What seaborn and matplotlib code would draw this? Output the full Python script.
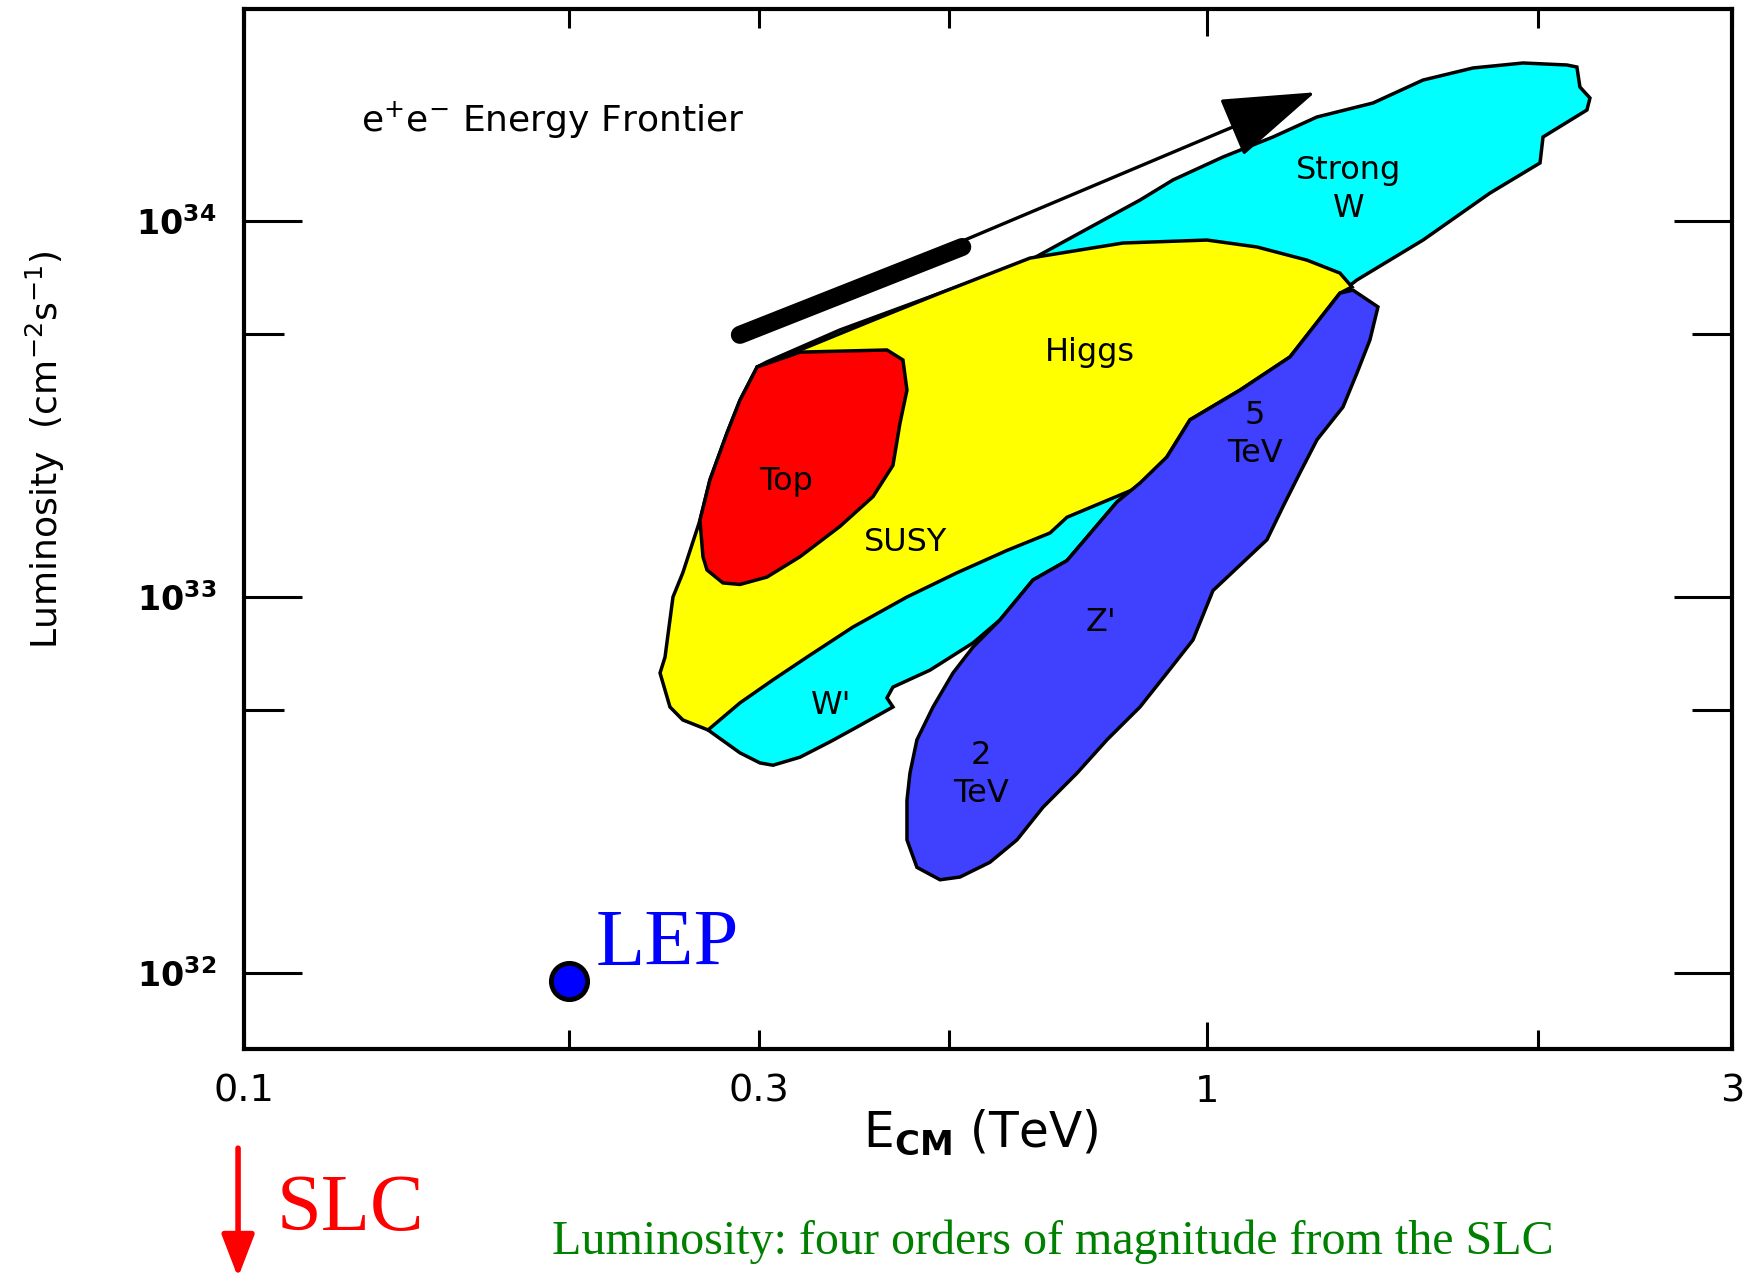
import numpy as np
import seaborn as sns
import matplotlib
matplotlib.use("Agg")
import matplotlib.pyplot as plt
from matplotlib.ticker import FixedLocator, FixedFormatter, NullFormatter

# e+e- energy frontier: physics reach regions in (E_cm, luminosity)

# x axis of the original is log-like but each stretch between labels has its own length
x_breaks = [0.1, 0.3, 1, 3]
x_span = [0, 515, 963, 1488]

# Strong W / W' (cyan) envelope
cyan_e = [0.2691, 0.2881, 0.3008, 0.3115, 0.3350, 0.3631, 0.3904, 0.4300, 0.4231, 0.4300,
          0.4750, 0.5332, 0.5733, 0.6265, 0.6865, 0.7852, 0.8353, 0.8981, 0.9554, 1.0715,
          1.1897, 1.3208, 1.3686, 1.5717, 1.8082, 2.0076, 2.0203, 2.2148, 2.2288, 2.1824,
          2.1687, 2.1238, 1.9375, 1.7450, 1.5717, 1.4153, 1.2589, 1.1481, 1.0340, 0.9127,
          0.8353, 0.6215, 0.4880, 0.3728, 0.3065, 0.2988]
cyan_lum = [4.43e32, 3.85e32, 3.62e32, 3.57e32, 3.75e32, 4.12e32, 4.51e32, 5.10e32, 5.39e32, 5.76e32,
            6.39e32, 7.55e32, 8.69e32, 1.11e33, 1.25e33, 1.79e33, 2.01e33, 2.36e33, 2.96e33, 3.55e33,
            4.35e33, 6.43e33, 6.97e33, 8.90e33, 1.187e34, 1.427e34, 1.673e34, 1.974e34, 2.124e34, 2.272e34,
            2.568e34, 2.600e34, 2.632e34, 2.553e34, 2.371e34, 2.060e34, 1.891e34, 1.673e34, 1.480e34, 1.286e34,
            1.137e34, 7.87e33, 6.43e33, 5.13e33, 4.22e33, 4.09e33]

# Higgs / SUSY (yellow)
yellow_e = [0.2988, 0.3413, 0.4076, 0.4880, 0.6215, 0.7980, 1.0, 1.1102, 1.2328, 1.3208,
            1.3544, 1.3208, 1.1897, 1.0715, 0.9554, 0.8981, 0.8812, 0.8195, 0.6865, 0.6558,
            0.5842, 0.5108, 0.4465, 0.3862, 0.3413, 0.3115, 0.2881, 0.2691, 0.2550, 0.2481,
            0.2429, 0.2455, 0.2497, 0.2550, 0.2645, 0.2702, 0.2802, 0.2881]
yellow_lum = [4.09e33, 4.62e33, 5.45e33, 6.43e33, 7.97e33, 8.74e33, 8.90e33, 8.53e33, 7.87e33, 7.27e33,
              6.68e33, 6.43e33, 4.35e33, 3.55e33, 2.96e33, 2.36e33, 2.22e33, 1.93e33, 1.63e33, 1.48e33,
              1.33e33, 1.16e33, 1.00e33, 8.32e32, 6.92e32, 6.02e32, 5.23e32, 4.43e32, 4.71e32, 5.10e32,
              6.28e32, 6.92e32, 1.00e33, 1.16e33, 1.60e33, 2.05e33, 2.73e33, 3.34e33]

# Top (red)
red_e = [0.2988, 0.3350, 0.4231, 0.4417, 0.4465, 0.4382, 0.4300, 0.4076, 0.3728, 0.3350,
         0.3065, 0.2881, 0.2778, 0.2685, 0.2662, 0.2645, 0.2702, 0.2802, 0.2881]
red_lum = [4.09e33, 4.48e33, 4.54e33, 4.27e33, 3.55e33, 2.90e33, 2.24e33, 1.85e33, 1.54e33, 1.28e33,
           1.13e33, 1.08e33, 1.09e33, 1.18e33, 1.28e33, 1.60e33, 2.05e33, 2.73e33, 3.34e33]

# Z' 2-5 TeV (blue)
blue_e = [1.3572, 1.4302, 1.4064, 1.3686, 1.3291, 1.2589, 1.2148, 1.1724, 1.1337, 1.0126,
          0.9631, 0.8981, 0.8353, 0.7643, 0.7051, 0.6436, 0.6001, 0.5580, 0.5149, 0.4880,
          0.4586, 0.4465, 0.4465, 0.4501, 0.4586, 0.4789, 0.5053, 0.5332, 0.5733, 0.6265,
          0.6865, 0.7852, 0.8353, 0.8981, 0.9554, 1.0715, 1.1897, 1.3208]
blue_lum = [6.55e33, 5.91e33, 4.83e33, 3.94e33, 3.20e33, 2.62e33, 2.14e33, 1.74e33, 1.42e33, 1.04e33,
            7.69e32, 6.28e32, 5.10e32, 4.17e32, 3.40e32, 2.76e32, 2.26e32, 1.97e32, 1.80e32, 1.77e32,
            1.91e32, 2.26e32, 2.88e32, 3.40e32, 4.17e32, 5.10e32, 6.28e32, 7.36e32, 8.69e32, 1.11e33,
            1.25e33, 1.79e33, 2.01e33, 2.36e33, 2.96e33, 3.55e33, 4.35e33, 6.43e33]

region_labels = ["Strong\nW", "Higgs", "Top", "SUSY", "5\nTeV", "Z'", "W'", "2\nTeV"]
label_e = [1.346, 0.730, 0.3225, 0.4453, 1.106, 0.752, 0.364, 0.5447]
label_lum = [1.21e34, 4.48e33, 2.03e33, 1.40e33, 2.71e33, 8.53e32, 5.16e32, 3.38e32]

# frontier arrow: tail, end of thick part, tip
arrow_e = [0.288, 0.518, 1.254]
arrow_lum = [4.98e33, 8.53e33, 2.20e34]

lep_e = [0.2]
lep_lum = [9.5e31]

x_label_ticks = [0.1, 0.3, 1, 3]
x_label_text = ["0.1", "0.3", "1", "3"]
x_minor_ticks = [0.2, 0.5, 2]
y_major_ticks = [1e32, 1e33, 1e34]
y_major_text = [r"$\mathbf{10^{32}}$", r"$\mathbf{10^{33}}$", r"$\mathbf{10^{34}}$"]
y_minor_ticks = [5e32, 5e33]

lb = np.log10(x_breaks)
sp = np.array(x_span, dtype=float)


def fwd(x):
    lx = np.log10(np.maximum(np.asarray(x, dtype=float), 1e-12))
    u = np.interp(lx, lb, sp)
    u = np.where(lx < lb[0], sp[0] + (lx - lb[0]) * (sp[1] - sp[0]) / (lb[1] - lb[0]), u)
    u = np.where(lx > lb[-1], sp[-1] + (lx - lb[-1]) * (sp[-1] - sp[-2]) / (lb[-1] - lb[-2]), u)
    return u


def inv(u):
    u = np.asarray(u, dtype=float)
    lx = np.interp(u, sp, lb)
    lx = np.where(u < sp[0], lb[0] + (u - sp[0]) * (lb[1] - lb[0]) / (sp[1] - sp[0]), lx)
    lx = np.where(u > sp[-1], lb[-1] + (u - sp[-1]) * (lb[-1] - lb[-2]) / (sp[-1] - sp[-2]), lx)
    return 10 ** lx


sns.set_style("white")
plt.rcParams["font.family"] = ["DejaVu Sans"]
plt.rcParams["mathtext.fontset"] = "dejavusans"
plt.rcParams["text.color"] = "black"
plt.rcParams["axes.labelcolor"] = "black"
plt.rcParams["xtick.color"] = "black"
plt.rcParams["ytick.color"] = "black"

fig = plt.figure(figsize=(17.53, 12.80), dpi=100)
ax = fig.add_axes([0.1392, 0.1805, 0.8488, 0.8125])
ax.set_xscale("function", functions=(fwd, inv))
ax.set_yscale("log")

#%%
# regions
ax.fill(cyan_e, cyan_lum, facecolor="#00ffff", edgecolor="black", lw=2.5, zorder=1)
ax.fill(yellow_e, yellow_lum, facecolor="#ffff00", edgecolor="black", lw=2.5, zorder=2)
ax.fill(red_e, red_lum, facecolor="#ff0000", edgecolor="black", lw=2.5, zorder=3)
ax.fill(blue_e, blue_lum, facecolor="#4040ff", edgecolor="black", lw=2.5, zorder=4)

for lab, e, l in zip(region_labels, label_e, label_lum):
    ax.text(e, l, lab, fontsize=23, ha="center", va="center", linespacing=1.3, zorder=6)

# arrow towards higher energy
ax.plot(arrow_e[:2], arrow_lum[:2], color="black", lw=13, solid_capstyle="round", zorder=5)
ax.annotate("", xy=(arrow_e[2], arrow_lum[2]), xytext=(arrow_e[0], arrow_lum[0]),
            arrowprops=dict(arrowstyle="-|>,head_length=3,head_width=1", mutation_scale=20,
                            lw=2.4, color="black", shrinkA=0, shrinkB=0), zorder=5)

# LEP
sns.scatterplot(x=lep_e, y=lep_lum, s=680, color="#0000ff", edgecolor="black",
                linewidth=3.5, ax=ax, zorder=7, legend=False)
ax.annotate("LEP", xy=(lep_e[0], lep_lum[0]), xytext=(19, 12), textcoords="offset points",
            fontsize=58, family="Liberation Serif", color="#0000ff", ha="left", va="baseline")

ax.text(0.0786, 0.893, r"e$^{+}$e$^{-}$ Energy Frontier", transform=ax.transAxes,
        fontsize=26, ha="left", va="center")

#%%
# axes
ax.set_xlim(0.1, 3)
ax.set_ylim(10 ** 31.798, 10 ** 34.564)

ax.xaxis.set_major_locator(FixedLocator(x_label_ticks))
ax.xaxis.set_major_formatter(FixedFormatter(x_label_text))
ax.xaxis.set_minor_locator(FixedLocator(x_minor_ticks))
ax.xaxis.set_minor_formatter(NullFormatter())
ax.yaxis.set_major_locator(FixedLocator(y_major_ticks))
ax.yaxis.set_major_formatter(FixedFormatter(y_major_text))
ax.yaxis.set_minor_locator(FixedLocator(y_minor_ticks))
ax.yaxis.set_minor_formatter(NullFormatter())

ax.tick_params(axis="both", which="both", direction="in", top=True, right=True,
               bottom=True, left=True, width=2.2, color="black")
ax.tick_params(axis="x", which="both", length=14)
ax.tick_params(axis="x", which="major", pad=18, labelsize=27.5)
ax.tick_params(axis="y", which="major", length=42, pad=20, labelsize=24)
ax.tick_params(axis="y", which="minor", length=29)

for sp_name in ["left", "right", "top", "bottom"]:
    ax.spines[sp_name].set_linewidth(3)
    ax.spines[sp_name].set_color("black")

ax.set_xlabel(r"E$_{\mathbf{CM}}$ (TeV)", fontsize=35)
ax.xaxis.set_label_coords(0.495, -0.056)
ax.set_ylabel(r"Luminosity  (cm$^{-2}$s$^{-1}$)", fontsize=26)
ax.yaxis.set_label_coords(-0.119, 0.576)

# 1 TeV tick is drawn a bit longer
one_tick = ax.xaxis.get_major_ticks()[2]
one_tick.tick1line.set_markersize(19.5)
one_tick.tick2line.set_markersize(19.5)

#%%
# notes below the plot
ax.annotate("", xy=(0.1358, 0.002), xytext=(0.1358, 0.103), xycoords="figure fraction",
            textcoords="figure fraction", annotation_clip=False,
            arrowprops=dict(arrowstyle="-|>,head_length=1.3,head_width=0.5", mutation_scale=20,
                            lw=4, color="#ff0000", shrinkA=0, shrinkB=0))
fig.text(0.158, 0.039, "SLC", fontsize=58, family="Liberation Serif", color="#ff0000",
         va="baseline")
fig.text(0.315, 0.0203, "Luminosity: four orders of magnitude from the SLC", fontsize=34.6,
         family="Liberation Serif", color="#008000", va="baseline")

fig.savefig("out.png", dpi=100)
